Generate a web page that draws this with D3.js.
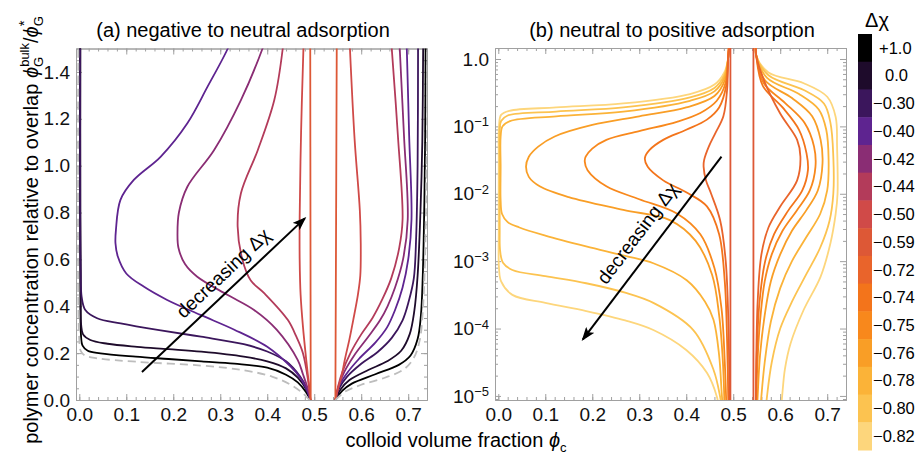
<!DOCTYPE html>
<html lang="en">
<head>
<meta charset="UTF-8" />
<title>Binodals</title>
<style>
  body { margin: 0; background: #fff; }
  svg { font-family: "Liberation Sans", Arial, sans-serif; }
  .axis path, .axis line { fill: none; stroke: #a0a0a0; stroke-width: 1; }
  .axis text { font-size: 19px; fill: #111; font-family: "Liberation Sans", Arial, sans-serif; }
  .curve { fill: none; stroke-width: 1.8; stroke-linejoin: round; }
</style>
<script src="https://cdn.jsdelivr.net/npm/d3@7"></script>
</head>
<body>
<svg width="919" height="456"></svg>
<script>
// colour bar: delta chi values and colours
var barLabels = ['+1.0', '0.0', '\u22120.30', '\u22120.40', '\u22120.42', '\u22120.44', '\u22120.50', '\u22120.59',
  '\u22120.72', '\u22120.74', '\u22120.75', '\u22120.76', '\u22120.78', '\u22120.80', '\u22120.82']
var barColors = ['#000000', '#1e0b2b', '#3b165c', '#5e2490', '#8a2d74', '#b33b5a', '#d04a48', '#dd5836',
  '#e9642b', '#f3741b', '#f8881c', '#f99e26', '#fbb338', '#fcc350', '#fdd67c']

var xTicks = [0, 0.1, 0.2, 0.3, 0.4, 0.5, 0.6, 0.7]
var yTicksA = [0, 0.2, 0.4, 0.6, 0.8, 1.0, 1.2, 1.4]
var yTicksB = [1e-5, 1e-4, 1e-3, 1e-2, 1e-1, 1]

// (a) negative to neutral adsorption: [phi_c, phi_G/phi_G*]
var gasA_p10 = [[0.492,0],[0.482,0.035],[0.465,0.075],[0.44,0.108],[0.40,0.138],[0.33,0.155],[0.26,0.165],[0.19,0.175],[0.12,0.185],[0.045,0.199],[0.018,0.21],[0.007,0.232],[0.0035,0.28],[0.0025,0.4],[0.002,0.8],[0.002,1.55]]
var solidA_p10 = [[0.545,0],[0.56,0.04],[0.58,0.07],[0.63,0.11],[0.68,0.15],[0.705,0.19],[0.72,0.26],[0.727,0.36],[0.731,0.53],[0.734,0.8],[0.736,1.1],[0.737,1.55]]
var gasA_0 = [[0.492,0],[0.483,0.045],[0.465,0.095],[0.44,0.135],[0.40,0.165],[0.35,0.185],[0.26,0.206],[0.19,0.217],[0.123,0.227],[0.06,0.24],[0.0235,0.256],[0.008,0.28],[0.004,0.32],[0.003,0.45],[0.002,0.8],[0.002,1.55]]
var solidA_0 = [[0.545,0],[0.556,0.045],[0.575,0.085],[0.615,0.128],[0.655,0.165],[0.685,0.21],[0.703,0.28],[0.713,0.38],[0.72,0.53],[0.726,0.8],[0.73,1.1],[0.732,1.55]]
var gasA_m30 = [[0.492,0],[0.484,0.05],[0.47,0.1],[0.44,0.165],[0.40,0.207],[0.35,0.238],[0.259,0.27],[0.17,0.298],[0.088,0.327],[0.038,0.349],[0.0128,0.384],[0.005,0.44],[0.003,0.55],[0.002,0.8],[0.002,1.55]]
var solidA_m30 = [[0.545,0],[0.553,0.05],[0.57,0.1],[0.6,0.155],[0.635,0.205],[0.665,0.265],[0.688,0.34],[0.701,0.42],[0.712,0.52],[0.717,0.7],[0.72,1.0],[0.721,1.55]]
var gasA_m40 = [[0.492,0],[0.485,0.04],[0.472,0.09],[0.45,0.142],[0.40,0.227],[0.33,0.30],[0.258,0.363],[0.187,0.427],[0.137,0.484],[0.10,0.54],[0.082,0.612],[0.077,0.669],[0.078,0.726],[0.0876,0.854],[0.116,0.939],[0.173,1.038],[0.23,1.181],[0.273,1.337],[0.316,1.5],[0.325,1.55]]
var solidA_m40 = [[0.545,0],[0.553,0.06],[0.568,0.11],[0.595,0.175],[0.63,0.245],[0.655,0.31],[0.672,0.384],[0.688,0.48],[0.70,0.6],[0.707,0.77],[0.702,1.13],[0.697,1.5],[0.696,1.55]]
var gasA_m42 = [[0.492,0],[0.486,0.05],[0.476,0.11],[0.465,0.17],[0.42,0.30],[0.372,0.384],[0.316,0.448],[0.251,0.526],[0.225,0.58],[0.211,0.65],[0.209,0.711],[0.212,0.80],[0.23,0.91],[0.287,1.067],[0.344,1.28],[0.39,1.5],[0.398,1.55]]
var solidA_m42 = [[0.545,0],[0.552,0.06],[0.564,0.12],[0.585,0.19],[0.615,0.27],[0.64,0.34],[0.656,0.40],[0.672,0.48],[0.689,0.6],[0.699,0.77],[0.691,1.13],[0.682,1.5],[0.681,1.55]]
var gasA_m44 = [[0.492,0],[0.488,0.07],[0.476,0.2],[0.462,0.27],[0.444,0.341],[0.394,0.455],[0.365,0.51],[0.347,0.6],[0.337,0.74],[0.344,0.882],[0.38,1.067],[0.415,1.28],[0.433,1.5],[0.435,1.55]]
var solidA_m44 = [[0.545,0],[0.551,0.06],[0.56,0.12],[0.577,0.2],[0.6,0.28],[0.624,0.35],[0.645,0.43],[0.664,0.52],[0.681,0.65],[0.688,0.77],[0.678,1.13],[0.665,1.5],[0.663,1.55]]
var gasA_m50 = [[0.492,0],[0.488,0.08],[0.483,0.171],[0.476,0.313],[0.471,0.45],[0.469,0.6],[0.469,0.78],[0.472,1.14],[0.477,1.5],[0.478,1.55]]
var solidA_m50 = [[0.545,0],[0.551,0.05],[0.558,0.1],[0.565,0.171],[0.575,0.26],[0.583,0.341],[0.593,0.45],[0.598,0.53],[0.599,0.669],[0.597,0.811],[0.586,1.11],[0.576,1.5],[0.575,1.55]]
var gasA_m59 = [[0.4925,0],[0.492,0.75],[0.4915,1.55]]
var solidA_m59 = [[0.545,0],[0.5465,0.75],[0.548,1.55]]
// grey dashed reference binodal
var gasA_ref = [[0.49,0],[0.475,0.03],[0.45,0.065],[0.41,0.1],[0.35,0.127],[0.259,0.147],[0.123,0.163],[0.038,0.178],[0.012,0.19],[0.003,0.21],[0.0,0.26],[-0.002,0.4],[-0.002,1.55]]
var solidA_ref = [[0.545,0],[0.565,0.035],[0.6,0.065],[0.65,0.095],[0.69,0.13],[0.712,0.18],[0.725,0.26],[0.731,0.38],[0.735,0.55],[0.738,0.85],[0.74,1.2],[0.741,1.55]]

// (b) neutral to positive adsorption (log scale)
var gasB_m59 = [[0.494,5e-6],[0.494,1.6]]
var solidB_m59 = [[0.543,5e-6],[0.543,1.6]]
var gasB_m72 = [[0.491,1.585],[0.489,1],[0.487,0.355],[0.479,0.141],[0.462,0.0794],[0.448,0.0501],[0.438,0.0316],[0.437,0.0251],[0.442,0.0158],[0.453,0.01],[0.472,0.00407],[0.484,0.001],[0.49,1e-4],[0.492,5e-6]]
var solidB_m72 = [[0.548,1.585],[0.549,1.12],[0.565,0.49],[0.60,0.155],[0.636,0.063],[0.643,0.0355],[0.636,0.0158],[0.60,0.00646],[0.575,0.00316],[0.56,0.00126],[0.552,2.5e-4],[0.549,3.16e-5],[0.548,5e-6]]
var gasB_m74 = [[0.491,1.585],[0.489,1],[0.485,0.398],[0.47,0.191],[0.444,0.126],[0.4,0.089],[0.351,0.063],[0.322,0.0447],[0.312,0.0339],[0.318,0.0251],[0.351,0.0158],[0.4,0.0105],[0.444,0.0065],[0.47,0.0025],[0.482,5.0e-4],[0.487,6.3e-5],[0.49,5e-6]]
var solidB_m74 = [[0.548,1.585],[0.549,1.12],[0.563,0.398],[0.605,0.191],[0.64,0.089],[0.656,0.0398],[0.659,0.0224],[0.647,0.0112],[0.617,0.00562],[0.587,0.00251],[0.568,0.001],[0.556,2.5e-4],[0.55,3.98e-5],[0.548,5e-6]]
var gasB_m75 = [[0.491,1.585],[0.489,1],[0.484,0.447],[0.465,0.240],[0.43,0.158],[0.38,0.117],[0.3,0.085],[0.23,0.063],[0.2,0.0468],[0.186,0.0355],[0.184,0.0302],[0.19,0.0224],[0.23,0.0129],[0.3,0.0083],[0.38,0.0051],[0.43,0.0025],[0.46,7.9e-4],[0.475,2.0e-4],[0.482,3.2e-5],[0.486,5e-6]]
var solidB_m75 = [[0.548,1.585],[0.549,1.12],[0.565,0.437],[0.61,0.224],[0.652,0.112],[0.672,0.0501],[0.675,0.0251],[0.663,0.0112],[0.635,0.00562],[0.605,0.00282],[0.582,0.00126],[0.567,5.0e-4],[0.557,1.26e-4],[0.551,2.5e-5],[0.549,5e-6]]
var gasB_m76 = [[0.491,1.585],[0.489,1],[0.483,0.501],[0.46,0.282],[0.4,0.191],[0.3,0.141],[0.2,0.105],[0.12,0.0708],[0.085,0.0501],[0.065,0.0355],[0.059,0.0251],[0.065,0.0178],[0.088,0.0129],[0.15,0.0089],[0.266,0.00575],[0.365,0.00407],[0.42,0.002],[0.455,6.3e-4],[0.47,1.58e-4],[0.478,3.2e-5],[0.482,5e-6]]
var solidB_m76 = [[0.548,1.585],[0.549,1.12],[0.568,0.479],[0.625,0.263],[0.668,0.141],[0.686,0.063],[0.69,0.0282],[0.68,0.0112],[0.655,0.00562],[0.625,0.00282],[0.6,0.00126],[0.58,5.0e-4],[0.567,1.58e-4],[0.557,3.98e-5],[0.552,1e-5],[0.55,5e-6]]
var gasB_m78 = [[0.491,1.585],[0.489,1],[0.481,0.525],[0.46,0.331],[0.408,0.240],[0.266,0.166],[0.123,0.141],[0.025,0.120],[0.009,0.1],[0.005,0.0708],[0.005,0.0251],[0.005,0.00794],[0.008,0.00501],[0.02,0.0038],[0.045,0.00316],[0.1,0.0024],[0.187,0.00166],[0.27,0.0012],[0.33,9.3e-4],[0.401,5.2e-4],[0.44,2.5e-4],[0.458,1.35e-4],[0.47,4.0e-5],[0.476,9.8e-6],[0.48,5e-6]]
var solidB_m78 = [[0.548,1.585],[0.549,1.12],[0.572,0.525],[0.64,0.302],[0.682,0.178],[0.698,0.089],[0.703,0.0316],[0.7,0.0112],[0.685,0.00501],[0.655,0.00224],[0.625,0.001],[0.6,3.98e-4],[0.58,1.26e-4],[0.567,3.16e-5],[0.56,1e-5],[0.557,5e-6]]
var gasB_m80 = [[0.491,1.585],[0.489,1],[0.481,0.575],[0.46,0.372],[0.408,0.269],[0.266,0.191],[0.123,0.166],[0.02,0.145],[0.006,0.120],[0.003,0.089],[0.003,0.0316],[0.003,0.00316],[0.004,0.00141],[0.01,9.5e-4],[0.03,7.4e-4],[0.1,6.0e-4],[0.187,4.7e-4],[0.27,3.4e-4],[0.33,2.4e-4],[0.415,9.5e-5],[0.458,2.45e-5],[0.472,9.8e-6],[0.478,5e-6]]
var solidB_m80 = [[0.548,1.585],[0.549,1.12],[0.575,0.575],[0.65,0.347],[0.693,0.219],[0.707,0.112],[0.713,0.0355],[0.713,0.01],[0.705,0.00398],[0.685,0.00158],[0.655,6.3e-4],[0.625,2.5e-4],[0.6,1e-4],[0.582,3.16e-5],[0.572,1e-5],[0.568,5e-6]]
var gasB_m82 = [[0.491,1.585],[0.489,1],[0.481,0.631],[0.46,0.417],[0.408,0.302],[0.266,0.219],[0.123,0.191],[0.0235,0.170],[0.006,0.148],[0.0015,0.1],[0.001,0.0316],[0.001,0.00316],[0.0015,7.9e-4],[0.006,5.0e-4],[0.03,3.16e-4],[0.1,2.4e-4],[0.187,1.82e-4],[0.27,1.32e-4],[0.33,9.5e-5],[0.4,4.8e-5],[0.444,2.2e-5],[0.465,9.8e-6],[0.472,5e-6]]
var solidB_m82 = [[0.548,1.585],[0.549,1.12],[0.575,0.631],[0.65,0.437],[0.70,0.275],[0.718,0.138],[0.721,0.0501],[0.722,0.01],[0.718,0.00501],[0.707,0.00186],[0.686,5.9e-4],[0.65,1.9e-4],[0.622,6.0e-5],[0.61,2.5e-5],[0.604,9.8e-6],[0.6,5e-6]]

// annotation arrows, in data coordinates
var arrowA = [[0.1334, 0.1195], [0.48, 0.775]]
var arrowTextA = [0.306, 0.542]
var arrowB = [[0.475, 0.0356], [0.18, 6.9e-5]]
var arrowTextB = [0.296, 0.00259]

var curvesA = [
  { key: '+1.0', parts: [gasA_p10, solidA_p10] },
  { key: '0.0', parts: [gasA_0, solidA_0] },
  { key: '\u22120.30', parts: [gasA_m30, solidA_m30] },
  { key: '\u22120.40', parts: [gasA_m40, solidA_m40] },
  { key: '\u22120.42', parts: [gasA_m42, solidA_m42] },
  { key: '\u22120.44', parts: [gasA_m44, solidA_m44] },
  { key: '\u22120.50', parts: [gasA_m50, solidA_m50] },
  { key: '\u22120.59', parts: [gasA_m59, solidA_m59] }
]
var curvesB = [
  { key: '\u22120.82', parts: [gasB_m82, solidB_m82] },
  { key: '\u22120.80', parts: [gasB_m80, solidB_m80] },
  { key: '\u22120.78', parts: [gasB_m78, solidB_m78] },
  { key: '\u22120.76', parts: [gasB_m76, solidB_m76] },
  { key: '\u22120.75', parts: [gasB_m75, solidB_m75] },
  { key: '\u22120.74', parts: [gasB_m74, solidB_m74] },
  { key: '\u22120.72', parts: [gasB_m72, solidB_m72] },
  { key: '\u22120.59', parts: [gasB_m59, solidB_m59] }
]
function colorOf(k) { return barColors[barLabels.indexOf(k)] }

var svg = d3.select('svg')
var defs = svg.append('defs')

var xA = d3.scaleLinear().domain([-0.007, 0.74]).range([76, 427])
var yA = d3.scaleLinear().domain([0, 1.5]).range([400, 48.5])
var xB = d3.scaleLinear().domain([-0.007, 0.74]).range([495, 846])
var yB = d3.scaleLog().domain([8.7e-6, 1.456]).range([400, 48])

defs.append('clipPath').attr('id', 'clipA').append('rect')
  .attr('x', 76).attr('y', 48.5).attr('width', 351).attr('height', 351.5)
defs.append('clipPath').attr('id', 'clipB').append('rect')
  .attr('x', 495).attr('y', 48).attr('width', 351).attr('height', 352)

defs.append('marker').attr('id', 'head')
  .attr('viewBox', '0 0 14 10').attr('refX', 12).attr('refY', 5)
  .attr('markerWidth', 14).attr('markerHeight', 10)
  .attr('markerUnits', 'userSpaceOnUse').attr('orient', 'auto')
  .append('path').attr('d', 'M0,0 L14,5 L0,10 L3,5 Z').attr('fill', '#000')

function frame(x, y, xMinor, yMinor, yFmt, isLog) {
  var x0 = x.range()[0], x1 = x.range()[1], y0 = y.range()[0], y1 = y.range()[1]
  // minor ticks
  svg.append('g').attr('class', 'axis').attr('transform', `translate(0,${y0})`)
    .call(d3.axisBottom(x).tickValues(xMinor).tickSizeInner(-3).tickSizeOuter(0).tickFormat(''))
  svg.append('g').attr('class', 'axis').attr('transform', `translate(0,${y1})`)
    .call(d3.axisTop(x).tickValues(xMinor).tickSizeInner(-3).tickSizeOuter(0).tickFormat(''))
  svg.append('g').attr('class', 'axis').attr('transform', `translate(${x0},0)`)
    .call(d3.axisLeft(y).tickValues(yMinor).tickSizeInner(-3).tickSizeOuter(0).tickFormat(''))
  svg.append('g').attr('class', 'axis').attr('transform', `translate(${x1},0)`)
    .call(d3.axisRight(y).tickValues(yMinor).tickSizeInner(-3).tickSizeOuter(0).tickFormat(''))
  // major ticks
  svg.append('g').attr('class', 'axis').attr('transform', `translate(0,${y0})`)
    .call(d3.axisBottom(x).tickValues(xTicks).tickSizeInner(-6).tickSizeOuter(0).tickPadding(8).tickFormat(d3.format('.1f')))
  svg.append('g').attr('class', 'axis').attr('transform', `translate(0,${y1})`)
    .call(d3.axisTop(x).tickValues(xTicks).tickSizeInner(-6).tickSizeOuter(0).tickFormat(''))
  var yt = isLog ? yTicksB : yTicksA
  var ax = svg.append('g').attr('class', 'axis').attr('transform', `translate(${x0},0)`)
    .call(d3.axisLeft(y).tickValues(yt).tickSizeInner(-6).tickSizeOuter(0).tickPadding(6).tickFormat(yFmt))
  svg.append('g').attr('class', 'axis').attr('transform', `translate(${x1},0)`)
    .call(d3.axisRight(y).tickValues(yt).tickSizeInner(-6).tickSizeOuter(0).tickFormat(''))
  return ax
}

var minorX = d3.range(0, 0.741, 0.02)
var minorYA = d3.range(0, 1.51, 0.05)
var minorYB = []
for (var e = -6; e <= 0; e++) for (var m = 2; m <= 9; m++) {
  var v = m * Math.pow(10, e)
  if (v > 8.7e-6 && v < 1.456) minorYB.push(v)
}

frame(xA, yA, minorX, minorYA, d3.format('.1f'), false)
var axB = frame(xB, yB, minorX, minorYB, function() { return '' }, true)
axB.selectAll('.tick text').each(function(d) {
  var t = d3.select(this)
  if (d === 1) { t.text('1.0'); return }
  t.append('tspan').text('10')
  t.append('tspan').attr('dy', '-0.5em').style('font-size', '13px').text('\u2212' + Math.round(-Math.log10(d)))
})

function drawCurves(curves, x, y, clip) {
  var line = d3.line().x(function(d) { return x(d[0]) }).y(function(d) { return y(d[1]) })
    .curve(d3.curveCatmullRom.alpha(0.5))
  var g = svg.append('g').attr('clip-path', `url(#${clip})`)
  curves.forEach(function(c) {
    c.parts.forEach(function(p) {
      g.append('path').attr('class', 'curve').attr('d', line(p)).attr('stroke', c.color || colorOf(c.key))
        .attr('stroke-dasharray', c.dash || null).attr('stroke-width', c.width || 1.8)
    })
  })
}

drawCurves(curvesA, xA, yA, 'clipA')
drawCurves([{ key: 'ref', color: '#bdbdbd', dash: '8,5', width: 2.2, parts: [gasA_ref, solidA_ref] }], xA, yA, 'clipA')
drawCurves(curvesB, xB, yB, 'clipB')

function arrow(pts, tpos, x, y) {
  var p0 = [x(pts[0][0]), y(pts[0][1])], p1 = [x(pts[1][0]), y(pts[1][1])]
  svg.append('line').attr('x1', p0[0]).attr('y1', p0[1]).attr('x2', p1[0]).attr('y2', p1[1])
    .attr('stroke', '#000').attr('stroke-width', 2).attr('marker-end', 'url(#head)')
  var lo = p0[1] > p1[1] ? [p0, p1] : [p1, p0]
  var ang = Math.atan2(lo[1][1] - lo[0][1], lo[1][0] - lo[0][0]) * 180 / Math.PI
  var t = svg.append('text').attr('transform', `translate(${x(tpos[0])},${y(tpos[1])}) rotate(${ang})`)
    .attr('text-anchor', 'middle').attr('dy', '0.35em').style('font-size', '19px')
  t.append('tspan').text('decreasing \u0394')
  t.append('tspan').text('\u03C7')
}
arrow(arrowA, arrowTextA, xA, yA)
arrow(arrowB, arrowTextB, xB, yB)

// titles
svg.append('text').attr('x', 243).attr('y', 36.5).attr('text-anchor', 'middle').style('font-size', '20px')
  .text('(a) negative to neutral adsorption')
svg.append('text').attr('x', 672).attr('y', 36.5).attr('text-anchor', 'middle').style('font-size', '20px')
  .text('(b) neutral to positive adsorption')

// axis labels
var xl = svg.append('text').attr('x', 456).attr('y', 447).attr('text-anchor', 'middle').style('font-size', '20px')
xl.append('tspan').text('colloid volume fraction ')
xl.append('tspan').style('font-style', 'italic').text('\u03D5')
xl.append('tspan').attr('dy', 5).style('font-size', '13px').text('c')

var yl = svg.append('text').attr('transform', 'translate(38,230) rotate(-90)').attr('text-anchor', 'middle').style('font-size', '20px')
yl.append('tspan').text('polymer concentration relative to overlap ')
yl.append('tspan').style('font-style', 'italic').text('\u03D5')
yl.append('tspan').attr('dy', 5).style('font-size', '13px').text('G')
yl.append('tspan').attr('dx', -10).attr('dy', -14).style('font-size', '13px').text('bulk')
yl.append('tspan').attr('dy', 9).text('/')
yl.append('tspan').style('font-style', 'italic').text('\u03D5')
yl.append('tspan').attr('dy', 5).style('font-size', '13px').text('G')
yl.append('tspan').attr('dx', -10).attr('dy', -14).style('font-size', '15px').text('*')

// colour bar
var cb = svg.append('g')
var cellH = (450 - 34) / barLabels.length
cb.selectAll('rect').data(barColors).enter().append('rect')
  .attr('x', 858).attr('y', function(d, i) { return 34 + i * cellH })
  .attr('width', 14).attr('height', cellH + 0.5).attr('fill', function(d) { return d })
cb.selectAll('text.lab').data(barLabels).enter().append('text').attr('class', 'lab')
  .attr('x', function(d) { return d[0] === '\u2212' ? 873 : (d[0] === '+' ? 879 : 885) })
  .attr('y', function(d, i) { return 34 + (i + 0.5) * cellH })
  .attr('dy', '0.35em').style('font-size', '16.5px').text(function(d) { return d })
svg.append('text').attr('x', 877).attr('y', 27).attr('text-anchor', 'middle').style('font-size', '20px').text('\u0394\u03C7')
</script>
</body>
</html>
